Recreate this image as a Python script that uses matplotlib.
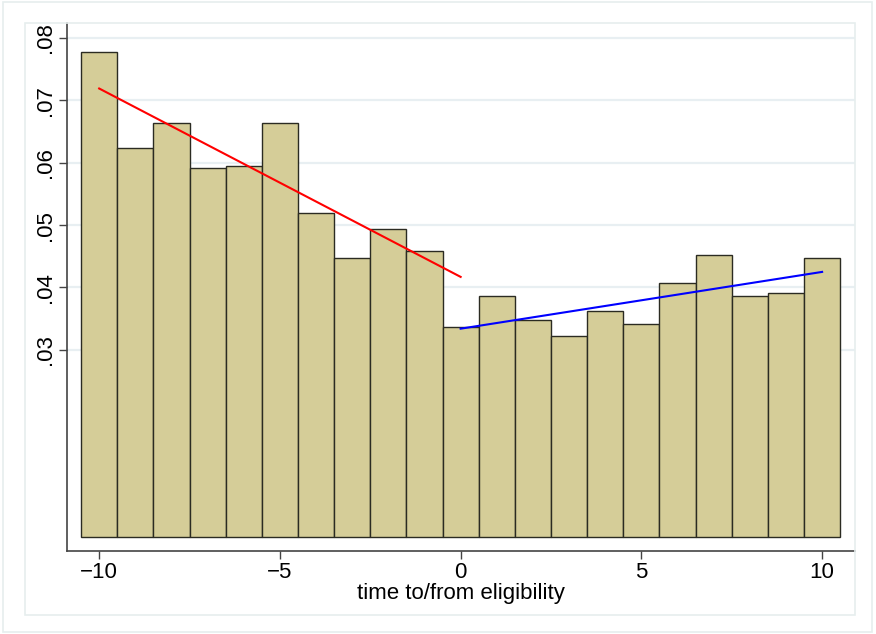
import numpy as np
import matplotlib.pyplot as plt
from matplotlib.patches import Rectangle

# histogram of time to/from eligibility, one bin per period
periods = np.arange(-10, 11)
density = [0.0778, 0.0623, 0.0663, 0.0591, 0.0595, 0.0663, 0.0520, 0.0448,
           0.0494, 0.0459, 0.0337, 0.0387, 0.0348, 0.0322, 0.0362, 0.0341,
           0.0408, 0.0452, 0.0387, 0.0391, 0.0448]

# linear fits before and after eligibility
fit_pre_x = [-10, 0]
fit_pre_y = [0.0719, 0.0417]
fit_post_x = [0, 10]
fit_post_y = [0.0334, 0.0425]

yticks = [0.03, 0.04, 0.05, 0.06, 0.07, 0.08]
ytick_labels = ['.03', '.04', '.05', '.06', '.07', '.08']
xticks = [-10, -5, 0, 5, 10]

W, H = 876, 634
fig = plt.figure(figsize=(W / 100, H / 100), dpi=100)
plt.rcParams['font.family'] = ['Liberation Sans', 'DejaVu Sans']

# light frames around the graph and plot region
frame_col = '#e6eeee'
fig.patches.append(Rectangle((3 / W, 2 / H), 869 / W, 630 / H, transform=fig.transFigure,
                             fill=False, edgecolor=frame_col, lw=1.2))
fig.patches.append(Rectangle((25 / W, 1 - 615 / H), 830 / W, 592 / H, transform=fig.transFigure,
                             fill=False, edgecolor=frame_col, lw=1.2))

ax = fig.add_axes([67 / W, 1 - 551 / H, 788 / W, 528 / H])
ax.set_facecolor('none')

ax.bar(periods, density, width=1.0, color='#d5cd98', edgecolor='#2b2b22', linewidth=1.0, zorder=2)
ax.plot(fit_pre_x, fit_pre_y, color='#ff0000', lw=1.5, zorder=3)
ax.plot(fit_post_x, fit_post_y, color='#0000ff', lw=1.5, zorder=3)

for y in yticks:
    ax.axhline(y, color='#e8eff2', lw=1.6, zorder=1)

ax.set_xlim(-10.89, 10.91)
ax.set_ylim(-0.00224, 0.0824)

ax.set_yticks(yticks)
ax.set_yticklabels(ytick_labels, rotation=90, va='center')
ax.set_xticks(xticks)
ax.set_xticklabels(['\u221210', '\u22125', '0', '5', '10'])
ax.tick_params(direction='out', length=6, width=1, color='#444444', labelsize=16, pad=2)

for side in ['top', 'right']:
    ax.spines[side].set_visible(False)
for side in ['left', 'bottom']:
    ax.spines[side].set_color('#444444')
    ax.spines[side].set_linewidth(1.2)

ax.set_xlabel('time to/from eligibility', fontsize=16, labelpad=0)

fig.savefig('out.png', dpi=100)
